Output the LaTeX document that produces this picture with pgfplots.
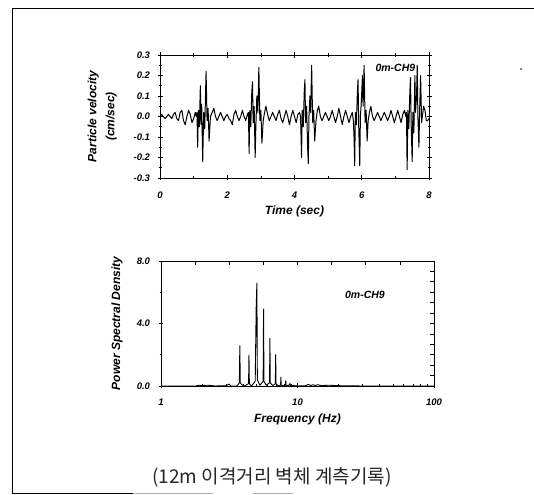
\documentclass[border=0pt]{standalone}
\usepackage{fontspec}
\setmainfont{Liberation Sans}
\newfontfamily\cjk{Noto Sans CJK KR}
\usepackage{pgfplots}
\pgfplotsset{compat=1.18}
\usepackage{pgfplotstable}

% particle velocity record, 0m-CH9
\pgfplotstableread{
t v
0.00 0.00
0.05 0.01
0.10 0.00
0.15 -0.01
0.20 0.00
0.25 0.01
0.30 0.00
0.35 -0.01
0.40 0.01
0.45 0.02
0.50 -0.01
0.55 -0.02
0.60 0.02
0.65 0.03
0.70 -0.02
0.75 -0.04
0.80 0.00
0.85 0.03
0.90 0.01
0.95 -0.03
1.00 -0.01
1.05 0.02
1.08 0.00
1.10 0.02
1.12 -0.15
1.14 0.03
1.17 -0.05
1.20 0.15
1.22 -0.04
1.24 0.06
1.27 -0.22
1.30 0.02
1.33 -0.06
1.37 0.22
1.40 -0.02
1.43 0.04
1.46 -0.12
1.50 0.00
1.55 0.02
1.60 0.04
1.65 0.00
1.70 -0.02
1.75 0.00
1.80 0.02
1.85 0.00
1.90 -0.02
1.95 0.00
2.00 0.01
2.05 -0.01
2.10 -0.02
2.15 -0.04
2.20 0.01
2.25 0.03
2.30 0.00
2.35 -0.02
2.40 0.00
2.45 0.03
2.50 0.00
2.55 -0.02
2.60 0.01
2.63 0.02
2.65 -0.18
2.67 0.03
2.70 -0.05
2.73 0.12
2.75 0.17
2.77 -0.03
2.80 0.05
2.83 -0.20
2.85 -0.05
2.88 0.10
2.91 0.02
2.94 0.24
2.97 -0.02
3.00 0.03
3.03 -0.13
3.07 -0.02
3.11 0.02
3.15 0.05
3.20 0.01
3.25 -0.02
3.30 0.00
3.35 0.02
3.40 0.00
3.45 -0.02
3.50 0.01
3.55 0.03
3.60 -0.01
3.65 -0.03
3.70 0.00
3.75 0.03
3.80 0.00
3.85 -0.04
3.90 0.00
3.95 0.03
4.00 0.00
4.05 -0.03
4.10 0.01
4.15 0.02
4.18 0.00
4.21 -0.20
4.23 0.03
4.26 -0.05
4.29 0.12
4.31 0.18
4.33 -0.03
4.36 0.05
4.39 -0.15
4.41 -0.23
4.43 0.00
4.46 0.10
4.48 0.02
4.51 0.25
4.54 -0.03
4.57 0.03
4.60 -0.12
4.64 -0.02
4.68 0.03
4.72 0.05
4.77 0.00
4.82 -0.02
4.87 0.00
4.92 0.02
4.97 0.00
5.02 -0.02
5.07 0.00
5.12 0.03
5.17 0.00
5.22 -0.03
5.27 0.00
5.32 0.04
5.37 0.00
5.42 -0.04
5.47 0.00
5.52 0.03
5.57 0.00
5.62 -0.03
5.67 0.00
5.72 0.02
5.75 -0.02
5.77 -0.10
5.79 -0.24
5.81 0.02
5.84 -0.04
5.87 0.12
5.89 0.18
5.91 -0.05
5.94 -0.24
5.96 0.00
5.99 0.08
6.02 0.20
6.04 0.05
6.07 0.25
6.10 -0.03
6.13 0.03
6.16 -0.12
6.19 -0.02
6.23 0.02
6.27 0.05
6.32 0.00
6.37 -0.02
6.42 0.00
6.47 0.02
6.52 0.00
6.57 -0.02
6.62 0.00
6.67 0.02
6.72 0.00
6.77 -0.02
6.82 0.00
6.87 0.03
6.92 0.00
6.97 -0.03
7.02 0.00
7.07 0.03
7.12 0.00
7.17 -0.03
7.22 0.01
7.27 0.03
7.31 0.00
7.33 0.02
7.35 -0.26
7.37 0.03
7.40 -0.06
7.43 0.12
7.45 0.19
7.47 -0.04
7.50 -0.22
7.52 0.02
7.55 -0.08
7.58 0.20
7.60 0.02
7.63 0.10
7.65 0.25
7.67 0.00
7.70 -0.15
7.72 0.02
7.75 0.20
7.78 -0.03
7.81 0.01
7.84 0.05
7.88 0.03
7.92 -0.02
7.96 -0.02
8.00 -0.01
}\velocity

% power spectral density, 0m-CH9
\pgfplotstableread{
f p
1.0 0.0
1.8 0.0
1.9 0.05
2.0 0.03
2.2 0.05
2.5 0.0
3.0 0.02
3.15 0.12
3.25 0.0
3.6 0.0
3.75 0.2
3.78 2.6
3.81 0.2
3.95 0.05
4.1 0.0
4.38 0.15
4.41 2.0
4.44 0.15
4.6 0.0
4.9 0.3
4.98 5.0
5.04 6.6
5.08 0.4
5.3 0.05
5.60 0.3
5.64 4.95
5.68 0.3
5.9 0.05
6.24 0.2
6.28 3.07
6.32 0.2
6.6 0.02
6.88 0.15
6.92 2.03
6.96 0.15
7.2 0.02
7.52 0.05
7.56 0.58
7.60 0.05
7.9 0.02
8.15 0.05
8.2 0.35
8.25 0.05
8.6 0.02
8.8 0.15
8.9 0.02
9.5 0.02
10 0.0
11.5 0.02
12 0.1
12.5 0.03
13 0.08
13.5 0.03
14 0.08
15 0.03
17 0.05
20 0.02
30 0.0
100 0.0
}\psd

\pgfplotsset{
  rec/.style={
    scale only axis, anchor=south west,
    axis line style={line width=0.9pt},
    tick style={black, line width=0.7pt},
    tick align=center,
    major tick length=5pt, minor tick length=3pt,
    tick label style={font=\fontsize{9.5}{11}\selectfont\bfseries\itshape},
    label style={font=\fontsize{12}{14}\selectfont\bfseries\itshape},
    /pgf/number format/assume math mode=true,
  }
}

\begin{document}
\begin{tikzpicture}[x=1pt,y=1pt]
\useasboundingbox (0,0) rectangle (534,494);
% page frame
\draw[line width=1pt] (534,485) -- (12,485) -- (12,1) -- (133,1);
\draw[line width=1pt, gray!60] (133,1) -- (213,1) (253,1) -- (293,1);
\fill (521,425) circle (0.9pt);

% top: velocity time history
\begin{axis}[rec,
  at={(160pt,316pt)}, width=269pt, height=123pt,
  xmin=0, xmax=8, ymin=-0.3, ymax=0.3,
  xtick={0,2,...,8}, minor xtick={1,3,5,7},
  ytick={-0.3,-0.2,...,0.3}, minor ytick={-0.25,-0.15,...,0.25},
  yticklabel style={/pgf/number format/fixed, /pgf/number format/fixed zerofill,
    /pgf/number format/precision=1, xshift=-4pt},
  xticklabel style={yshift=-8pt},
  xlabel={Time (sec)},
  xlabel style={at={(axis description cs:0.5,-0.27)}, anchor=center},
  ylabel={Particle velocity\\[4pt](cm/sec)},
  ylabel style={at={(axis description cs:-0.215,0.5)}, anchor=center, align=center},
]
\addplot[black, line width=1pt, line join=round] table[x=t, y=v] {\velocity};
\node[font=\fontsize{10.5}{12}\selectfont\bfseries\itshape, anchor=center]
  at (rel axis cs:0.875,0.895) {0m-CH9};
\end{axis}

% bottom: power spectral density
\begin{axis}[rec,
  at={(161pt,108pt)}, width=273pt, height=125pt,
  xmode=log, xmin=1, xmax=100, ymin=0, ymax=8,
  axis x line*=bottom, axis y line*=left,
  xtick={1,10,100}, xticklabels={1,10,100},
  ytick={0,4,8}, minor ytick={2,6},
  yticklabel style={/pgf/number format/fixed, /pgf/number format/fixed zerofill,
    /pgf/number format/precision=1, xshift=-5pt},
  xticklabel style={yshift=-7pt},
  xlabel={Frequency (Hz)},
  xlabel style={at={(axis description cs:0.5,-0.27)}, anchor=center},
  ylabel={Power Spectral Density},
  ylabel style={at={(axis description cs:-0.161,0.5)}, anchor=center},
]
\addplot[black, line width=0.9pt] table[x=f, y=p] {\psd};
\node[font=\fontsize{10.5}{12}\selectfont\bfseries\itshape, anchor=center]
  at (rel axis cs:0.747,0.73) {0m-CH9};
\end{axis}
% top and right frame of the spectrum, with their own tick spacing
\begin{axis}[rec,
  at={(161pt,108pt)}, width=273pt, height=125pt,
  xmin=0, xmax=2, ymin=0, ymax=8,
  axis x line*=top, axis y line*=right,
  tick align=inside,
  xtick={0,0.25,...,2}, ytick={0,0.6667,...,8.1},
  xticklabels={}, yticklabels={},
  major tick length=4pt,
]
\end{axis}

% caption
\node[font=\cjk\fontsize{19}{22}\selectfont, text=black!85] at (272,17)
  {(12m 이격거리 벽체 계측기록)};
\end{tikzpicture}
\end{document}
